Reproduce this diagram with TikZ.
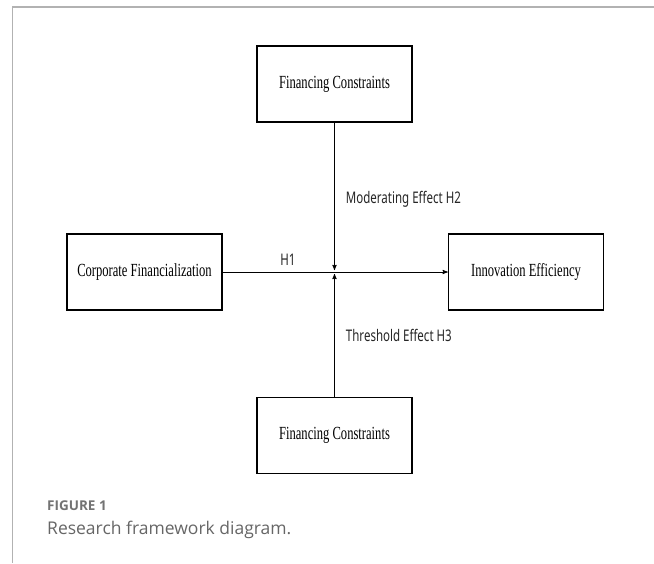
\documentclass[tikz,border=0pt]{standalone}
\usepackage{fontspec}
\setmainfont{Liberation Serif}
\newfontfamily\boxfont[FakeStretch=0.68]{Liberation Serif}
\newfontfamily\labfont[FakeStretch=0.72]{Noto Sans}
\newfontfamily\capfont{Open Sans}
\usetikzlibrary{arrows,positioning}

\begin{document}
\begin{tikzpicture}[x=1pt,y=-1pt,>=stealth',
		block/.style={draw,line width=1.5pt,minimum width=155pt,minimum height=76pt,inner sep=0pt,
			font=\boxfont\fontsize{18.5}{20}\selectfont},
		effect/.style={font=\labfont\fontsize{16}{18}\selectfont,text=black!85,inner sep=0pt}]
		\useasboundingbox (0,0) rectangle (654,563);
		% frame of the figure panel
		\draw[black!30,line width=1.4pt] (654,7) -- (12.5,7) -- (12.5,563);
		\node[block] (CF) at (144.5,272) {Corporate Financialization};
		\node[block,right=225pt of CF] (IE) {Innovation Efficiency};
		\node[block] (FCtop) at (334.5,84) {Financing Constraints};
		\node[block,below=274pt of FCtop] (FCbot) {Financing Constraints};
		\coordinate (MID) at (334.5,272);
		\path[->,line width=0.9pt] (CF) edge node[effect,above=6pt,pos=0.29] (H1) {H1} (IE)
				  (FCtop) edge[shorten >=2pt] node[effect,right=11pt,pos=0.51] (H2) {Moderating Effect H2} (MID)
				  (FCbot) edge[shorten >=2pt] node[effect,right=11pt,pos=0.49] (H3) {Threshold Effect H3} (MID);
		% caption
		\node[anchor=west,font=\capfont\bfseries\fontsize{13.5}{16}\selectfont,text=black!55,inner sep=0pt] (FIG) at (47,506) {FIGURE 1};
		\node[anchor=west,font=\capfont\fontsize{17.5}{20}\selectfont,text=black!60,inner sep=0pt] (CAP) at (47,530) {Research framework diagram.};
	\end{tikzpicture}
\end{document}
